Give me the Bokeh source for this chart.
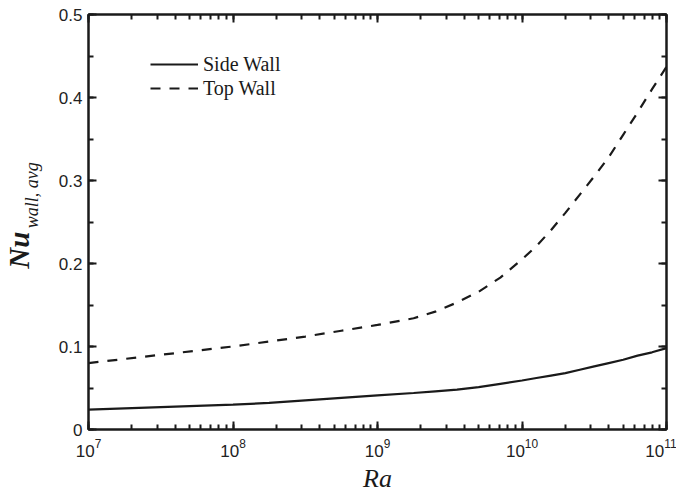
import math
from bokeh.plotting import figure
from bokeh.layouts import row
from bokeh.models import (Range1d, LogAxis, LinearAxis, LogTicker, SingleIntervalTicker,
                          Legend, LegendItem)
from bokeh.core.properties import value
from bokeh.embed import file_html
from bokeh.resources import INLINE

# ---- data ----
ra_exp = [7.0, 7.5, 8.0, 8.25, 8.5, 8.75, 9.0, 9.25, 9.4, 9.55, 9.7, 9.85, 10.0,
          10.1, 10.2, 10.3, 10.4, 10.5, 10.6, 10.7, 10.8, 10.9, 11.0]
side_wall = [0.024, 0.027, 0.030, 0.032, 0.035, 0.038, 0.041, 0.044, 0.046, 0.048, 0.051,
             0.055, 0.059, 0.062, 0.065, 0.068, 0.072, 0.076, 0.080, 0.084, 0.089, 0.093, 0.098]
top_wall = [0.080, 0.090, 0.100, 0.106, 0.112, 0.119, 0.126, 0.134, 0.142, 0.153, 0.166,
            0.183, 0.205, 0.221, 0.240, 0.261, 0.283, 0.305, 0.328, 0.355, 0.382, 0.410, 0.437]
ra = [10 ** e for e in ra_exp]

x_label = "Ra"
y_label_main = "Nu"
y_label_sub = "wall, avg"
series_names = ["Side Wall", "Top Wall"]

INK = "#1a1a1a"
SERIF = "Liberation Serif"
SANS = "Liberation Sans"

TOP, FH, BOT = 14, 415, 60

p = figure(frame_width=578, frame_height=FH, x_axis_type="log",
           x_range=Range1d(1e7, 1e11), y_range=Range1d(0, 0.5),
           output_backend="svg", toolbar_location=None,
           min_border_left=36, min_border_right=10, min_border_top=TOP, min_border_bottom=BOT)

p.xgrid.visible = False
p.ygrid.visible = False
p.outline_line_color = INK
p.outline_line_width = 2
p.background_fill_color = "white"
p.border_fill_color = "white"

def style_axis(ax, show_labels=True):
    ax.axis_line_color = INK
    ax.axis_line_width = 2
    ax.major_tick_line_color = INK
    ax.major_tick_line_width = 2
    ax.minor_tick_line_color = INK
    ax.minor_tick_line_width = 2
    ax.major_tick_in = 8
    ax.major_tick_out = 0
    ax.minor_tick_in = 5
    ax.minor_tick_out = 0
    if show_labels:
        ax.major_label_text_font = SANS
        ax.major_label_text_font_size = "17px"
        ax.major_label_text_color = "#222222"
        ax.major_label_standoff = 6
    else:
        ax.major_label_text_font_size = "1px"
        ax.major_label_text_color = None
        ax.major_label_standoff = 0

xt = LogTicker(num_minor_ticks=10)
yt = SingleIntervalTicker(interval=0.1, num_minor_ticks=2)

bottom_ax = p.below[0]
left_ax = p.left[0]
bottom_ax.ticker = xt
left_ax.ticker = yt
style_axis(bottom_ax)
style_axis(left_ax)
bottom_ax.major_label_standoff = 9
left_ax.formatter.use_scientific = False

bottom_ax.axis_label = x_label
bottom_ax.axis_label_text_font = SERIF
bottom_ax.axis_label_text_font_style = "italic"
bottom_ax.axis_label_text_font_size = "26px"
bottom_ax.axis_label_text_color = INK
bottom_ax.axis_label_standoff = 4

top_ax = LogAxis(ticker=xt)
style_axis(top_ax, show_labels=False)
right_ax = LinearAxis(ticker=yt)
style_axis(right_ax, show_labels=False)
p.add_layout(top_ax, "above")
p.add_layout(right_ax, "right")

r1 = p.line(ra, side_wall, line_color=INK, line_width=2.2)
r2 = p.line(ra, top_wall, line_color=INK, line_width=2.2, line_dash="10 9")

legend = Legend(items=[LegendItem(label=series_names[0], renderers=[r1]),
                       LegendItem(label=series_names[1], renderers=[r2])],
                location=(62, 329), padding=0, margin=0, spacing=0,
                glyph_width=48, glyph_height=24, label_standoff=5,
                border_line_color=None, background_fill_alpha=0,
                label_text_font=SERIF, label_text_font_size="20px", label_text_color=INK)
p.add_layout(legend, "center")

# ---- y axis title (with subscript) drawn in a narrow side panel ----
# its frame is aligned with the main frame (rows TOP..TOP+FH), so map pixel rows directly
lab = figure(width=52, height=TOP + FH + BOT, x_range=Range1d(0, 52),
             y_range=Range1d(TOP + FH, TOP),
             output_backend="svg", toolbar_location=None,
             min_border=0, min_border_left=0, min_border_right=0,
             min_border_top=TOP, min_border_bottom=BOT)
lab.axis.visible = False
lab.grid.visible = False
lab.outline_line_color = None
lab.border_fill_color = "white"
lab.background_fill_color = "white"
lab.text(x=[18], y=[272], text=[y_label_main], angle=math.pi / 2,
         text_font=value(SERIF), text_font_style="bold italic", text_font_size="29px",
         text_color=INK, text_align="left", text_baseline="alphabetic")
lab.text(x=[31], y=[231], text=[y_label_sub], angle=math.pi / 2,
         text_font=value(SERIF), text_font_style="italic", text_font_size="18px",
         text_color=INK, text_align="left", text_baseline="alphabetic")

layout = row(lab, p)
open("out.html", "w").write(file_html(layout, INLINE))
